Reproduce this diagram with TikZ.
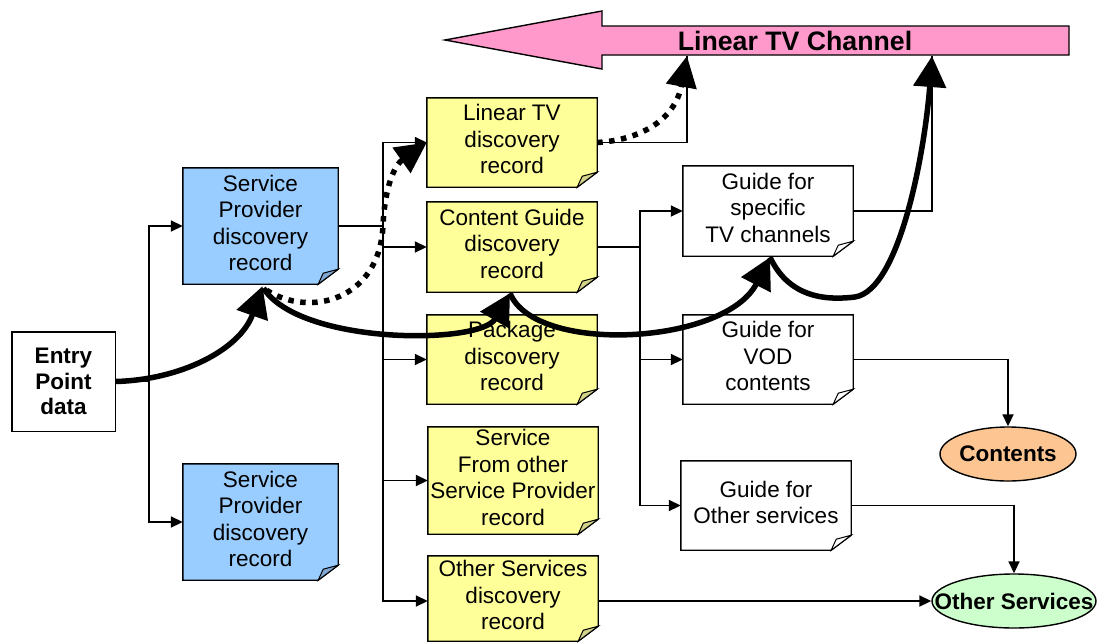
\documentclass[tikz,border=0pt]{standalone}
\usepackage{fontspec}
\setmainfont{Liberation Sans}
\usetikzlibrary{arrows.meta,shapes.geometric,backgrounds}
\definecolor{spblue}{HTML}{99CCFF}
\definecolor{spbluefold}{HTML}{7FA8D2}
\definecolor{recyellow}{HTML}{FFFF99}
\definecolor{recyellowfold}{HTML}{D2D28A}
\definecolor{chpink}{HTML}{FF99CC}
\definecolor{contorange}{HTML}{FCC592}
\definecolor{othgreen}{HTML}{CCFFCC}
\newcommand\foldrect[3]{%
  \filldraw[boxline,fill=#2] (#1.north west) -- (#1.north east) -- ([yshift=15pt]#1.south east) -- ([xshift=-20pt]#1.south east) -- (#1.south west) -- cycle;
  \filldraw[boxline,line width=1pt,fill=#3] ([xshift=-20pt]#1.south east) -- ([xshift=-15pt,yshift=11pt]#1.south east) -- ([yshift=15pt]#1.south east) -- cycle;
}
\begin{document}
\begin{tikzpicture}[x=1pt,y=-1pt,
  boxline/.style={draw=black,line width=1.4pt,line join=miter},
  rec/.style={inner sep=0pt,align=center,text depth=6.5pt,font=\fontsize{22.5}{26.5}\selectfont},
  thinline/.style={draw=black,line width=1.8pt},
  thinarrow/.style={thinline,-{Triangle[length=12pt,width=11pt]}},
  thickarrow/.style={draw=black,line width=5.5pt,-{Triangle[length=31pt,width=32pt]}},
  dotarrow/.style={draw=black,line width=5.5pt,dash pattern=on 5.5pt off 6.5pt,-{Triangle[length=31pt,width=30pt]}},
  ellnode/.style={ellipse,draw=black,line width=1.4pt,inner sep=0pt},
  boldtext/.style={font=\bfseries\fontsize{22.5}{26}\selectfont}
]
\useasboundingbox (0,0) rectangle (1097,643);

% Big channel arrow
\filldraw[boxline,fill=chpink] (445,40) -- (602,11) -- (602,26) -- (1069,26) -- (1069,55) -- (602,55) -- (602,69) -- cycle;
\node[font=\bfseries\fontsize{26.7}{30}\selectfont,inner sep=0pt] (ltvch) at (795,41) {Linear TV Channel};
\coordinate (ch1) at (687,56);
\coordinate (ch2) at (932,56);

% Nodes
\node[inner sep=0pt,minimum width=103pt,minimum height=99pt] (entry) at (63.5,381.5) {};
\node[inner sep=0pt,align=center,font=\bfseries\fontsize{22.5}{25.7}\selectfont] (entryT) at (entry) {Entry\\Point\\data};
\node[rec,minimum width=155pt,minimum height=116pt] (sp1) at (260.5,226) {Service\\Provider\\discovery\\record};
\node[rec,minimum width=155pt,minimum height=116pt] (sp2) at (260.5,522) {Service\\Provider\\discovery\\record};
\node[rec,minimum width=170pt,minimum height=89pt] (ltv) at (512,142.5) {Linear TV\\discovery\\record};
\node[rec,minimum width=170pt,minimum height=90pt] (cg) at (512,247) {Content Guide\\discovery\\record};
\node[rec,minimum width=170pt,minimum height=89pt] (pkg) at (512,359.5) {Package\\discovery\\record};
\node[rec,minimum width=170pt,minimum height=107pt] (sfo) at (513,480.5) {Service\\From other\\Service Provider\\record};
\node[rec,minimum width=170pt,minimum height=85pt] (osr) at (513,598.5) {Other Services\\discovery\\record};
\node[rec,minimum width=170pt,minimum height=90pt] (gtv) at (768,211) {Guide for\\specific\\TV channels};
\node[rec,minimum width=170pt,minimum height=89pt] (gvod) at (768,359.5) {Guide for\\VOD\\contents};
\node[rec,minimum width=170pt,minimum height=89pt] (goth) at (766,505.5) {Guide for\\Other services};
\node[ellnode,fill=contorange,minimum width=136pt,minimum height=54pt,label={[boldtext]center:Contents}] (contents) at (1008,454) {};
\node[ellnode,fill=othgreen,minimum width=164pt,minimum height=54pt,label={[boldtext]center:Other Services}] (others) at (1014,601) {};

\begin{scope}[on background layer]
  \draw[boxline,fill=white] (entry.north west) rectangle (entry.south east);
  \foldrect{sp1}{spblue}{spbluefold}
  \foldrect{sp2}{spblue}{spbluefold}
  \foldrect{ltv}{recyellow}{recyellowfold}
  \foldrect{cg}{recyellow}{recyellowfold}
  \foldrect{pkg}{recyellow}{recyellowfold}
  \foldrect{sfo}{recyellow}{recyellowfold}
  \foldrect{osr}{recyellow}{recyellowfold}
  \foldrect{gtv}{white}{white}
  \foldrect{gvod}{white}{white}
  \foldrect{goth}{white}{white}
\end{scope}

% Thin connectors
\draw[thinline] (entry.east) -- (149,381.5) coordinate (busA);
\draw[thinarrow] (busA) |- (sp1.west);
\draw[thinarrow] (busA) |- (sp2.west);
\draw[thinline] (sp1.east) -- (383,226) coordinate (busB);
\draw[thinarrow] (busB) |- (ltv.west);
\draw[thinarrow] (busB) |- (cg.west);
\draw[thinarrow] (busB) |- (pkg.west);
\draw[thinarrow] (busB) |- (sfo.west);
\draw[thinarrow] (busB) |- ([yshift=-2.5pt]osr.west);
\draw[thinline] (cg.east) -- (640,247) coordinate (busC);
\draw[thinarrow] (busC) |- (gtv.west);
\draw[thinarrow] (busC) |- (gvod.west);
\draw[thinarrow] (busC) |- (goth.west);
\draw[thinline] (ltv.east) -| (ch1);
\draw[thinline] (gtv.east) -| (ch2);
\draw[thinarrow] (gvod.east) -| (contents.north);
\draw[thinarrow] (goth.east) -| (others.north);
\draw[thinarrow] (osr.east |- others.west) -- (others.west);

% Thick connectors
\draw[thickarrow] (entry.east) .. controls (180,380) and (240,350) .. ([xshift=2pt,yshift=-2pt]sp1.south);
\draw[thickarrow] ([xshift=3pt,yshift=-4pt]sp1.south) .. controls (300,345) and (480,345) .. ([xshift=-2pt,yshift=-1pt]cg.south);
\draw[thickarrow] ([xshift=-2pt,yshift=-1pt]cg.south) .. controls (535,355) and (725,345) .. ([xshift=2pt,yshift=-1pt]gtv.south);
\draw[thickarrow] ([xshift=2pt,yshift=-1pt]gtv.south) .. controls (790,300) and (830,300) .. (855,297) .. controls (900,290) and (925,150) .. (ch2);
\draw[dotarrow] ([xshift=6pt,yshift=-6pt]sp1.south) .. controls (310,318) and (380,300) .. (383,225) .. controls (385,185) and (395,165) .. (ltv.west);
\draw[dotarrow] (ltv.east) .. controls (640,140) and (675,120) .. (ch1);
\end{tikzpicture}
\end{document}
